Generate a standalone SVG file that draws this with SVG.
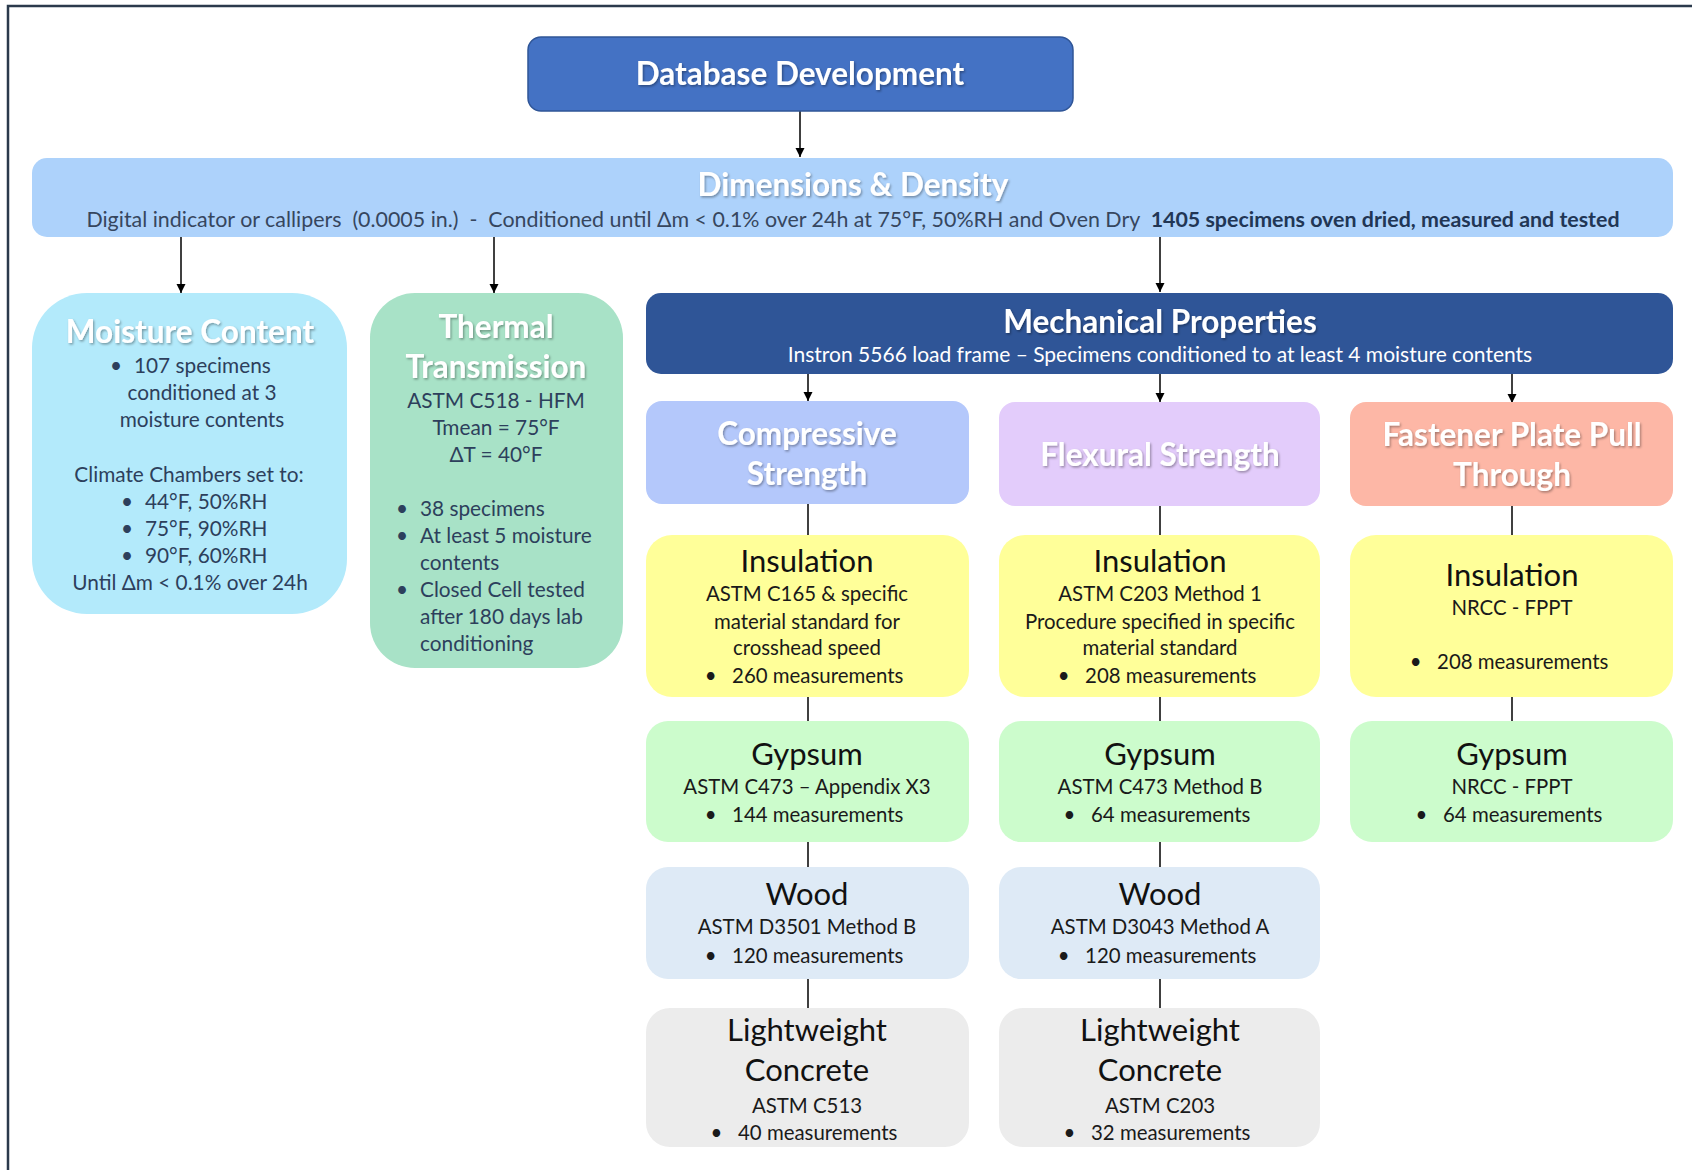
<svg xmlns="http://www.w3.org/2000/svg" width="1692" height="1170" viewBox="0 0 1692 1170">
<defs>
<marker id="arr" viewBox="0 0 10 10" refX="10" refY="5" markerWidth="9" markerHeight="10" markerUnits="userSpaceOnUse" orient="auto">
<path d="M0,0 L10,5 L0,10 z" fill="#000"/>
</marker>
<filter id="sh" x="-10%" y="-30%" width="120%" height="160%">
<feDropShadow dx="1.2" dy="1.5" stdDeviation="1" flood-color="#000" flood-opacity="0.35"/>
</filter>
</defs>
<style>
text{font-family:Lato,"Open Sans","Liberation Sans",sans-serif;}
.wt{fill:#fff;font-weight:bold;font-size:31.5px;text-anchor:middle;filter:url(#sh);}
.bd{fill:#2d3f5c;font-size:20.8px;}
.c{text-anchor:middle;}
.hd{fill:#111;font-size:31px;text-anchor:middle;}
.tx{fill:#1a1a1a;font-size:20.4px;text-anchor:middle;}
.ln{stroke:#000;stroke-width:1.5;fill:none;}
.ar{stroke:#000;stroke-width:1.5;fill:none;marker-end:url(#arr);}
</style>
<rect width="1692" height="1170" fill="#fff"/>
<path d="M8,1170 L8,6 L1692,6" fill="none" stroke="#2b3a4c" stroke-width="2.5"/>

<g id="connectors">
<line class="ar" x1="800" y1="111" x2="800" y2="157"/>
<line class="ar" x1="181" y1="237" x2="181" y2="293"/>
<line class="ar" x1="494" y1="237" x2="494" y2="293"/>
<line class="ar" x1="1160" y1="237" x2="1160" y2="292"/>
<line class="ar" x1="808" y1="374" x2="808" y2="401"/>
<line class="ar" x1="1160" y1="374" x2="1160" y2="402"/>
<line class="ar" x1="1512" y1="374" x2="1512" y2="403"/>
<line class="ln" x1="808" y1="504" x2="808" y2="535"/>
<line class="ln" x1="1160" y1="506" x2="1160" y2="535"/>
<line class="ln" x1="1512" y1="506" x2="1512" y2="535"/>
<line class="ln" x1="808" y1="697" x2="808" y2="721"/>
<line class="ln" x1="1160" y1="697" x2="1160" y2="721"/>
<line class="ln" x1="1512" y1="697" x2="1512" y2="721"/>
<line class="ln" x1="808" y1="842" x2="808" y2="867"/>
<line class="ln" x1="1160" y1="842" x2="1160" y2="867"/>
<line class="ln" x1="808" y1="979" x2="808" y2="1008"/>
<line class="ln" x1="1160" y1="979" x2="1160" y2="1008"/>
</g>

<g id="database-development">
<rect x="528" y="37" width="545" height="74" rx="13" fill="#4472c4" stroke="#2f5597" stroke-width="1.5"/>
<text class="wt" x="800" y="85">Database Development</text>
</g>

<g id="dimensions-density">
<rect x="32" y="158" width="1641" height="79" rx="15" fill="#add2fb"/>
<text class="wt" x="853" y="196">Dimensions &amp; Density</text>
<text x="853" y="227" text-anchor="middle" font-size="21.4" fill="#36465e" xml:space="preserve">Digital indicator or callipers  (0.0005 in.)  -  Conditioned until Δm &lt; 0.1% over 24h at 75°F, 50%RH and Oven Dry  <tspan font-weight="bold" fill="#213655">1405 specimens oven dried, measured and tested</tspan></text>
</g>

<g id="moisture-content">
<rect x="32" y="293" width="315" height="321" rx="55" fill="#b3eafb"/>
<text class="wt" x="190" y="343">Moisture Content</text>
<text class="bd" x="110" y="373">•</text>
<text class="bd" x="134" y="373">107 specimens</text>
<text class="bd c" x="202" y="400">conditioned at 3</text>
<text class="bd c" x="202" y="427">moisture contents</text>
<text class="bd c" x="189" y="482">Climate Chambers set to:</text>
<text class="bd" x="121" y="509">•</text>
<text class="bd" x="145" y="509">44°F, 50%RH</text>
<text class="bd" x="121" y="536">•</text>
<text class="bd" x="145" y="536">75°F, 90%RH</text>
<text class="bd" x="121" y="563">•</text>
<text class="bd" x="145" y="563">90°F, 60%RH</text>
<text class="bd c" x="190" y="590">Until Δm &lt; 0.1% over 24h</text>
</g>

<g id="thermal-transmission">
<rect x="370" y="293" width="253" height="375" rx="45" fill="#a8e2c7"/>
<text class="wt" x="496" y="338">Thermal</text>
<text class="wt" x="496" y="378">Transmission</text>
<text class="bd c" x="496" y="408">ASTM C518 - HFM</text>
<text class="bd c" x="496" y="435">Tmean = 75°F</text>
<text class="bd c" x="496" y="462">ΔT = 40°F</text>
<text class="bd" x="396" y="516">•</text>
<text class="bd" x="420" y="516">38 specimens</text>
<text class="bd" x="396" y="543">•</text>
<text class="bd" x="420" y="543">At least 5 moisture</text>
<text class="bd" x="420" y="570">contents</text>
<text class="bd" x="396" y="597">•</text>
<text class="bd" x="420" y="597">Closed Cell tested</text>
<text class="bd" x="420" y="624">after 180 days lab</text>
<text class="bd" x="420" y="651">conditioning</text>
</g>

<g id="mechanical-properties">
<rect x="646" y="293" width="1027" height="81" rx="15" fill="#2f5597"/>
<text class="wt" x="1160" y="333">Mechanical Properties</text>
<text x="1160" y="362" text-anchor="middle" font-size="21" fill="#fff">Instron 5566 load frame – Specimens conditioned to at least 4 moisture contents</text>
</g>

<g id="compressive-strength">
<rect x="646" y="401" width="323" height="103" rx="16" fill="#b4c8fb"/>
<text class="wt" x="807" y="445">Compressive</text>
<text class="wt" x="807" y="485">Strength</text>
</g>
<g id="flexural-strength">
<rect x="999" y="402" width="321" height="104" rx="16" fill="#e3ccfb"/>
<text class="wt" x="1160" y="466">Flexural Strength</text>
</g>
<g id="fastener-plate-pull-through">
<rect x="1350" y="402" width="323" height="104" rx="16" fill="#fdb7a6"/>
<text class="wt" x="1512" y="446">Fastener Plate Pull</text>
<text class="wt" x="1512" y="486">Through</text>
</g>

<g id="insulation-compressive">
<rect x="646" y="535" width="323" height="162" rx="26" fill="#ffff99"/>
<text class="hd" x="807" y="572">Insulation</text>
<text class="tx" x="807" y="601">ASTM C165 &amp; specific</text>
<text class="tx" x="807" y="629">material standard for</text>
<text class="tx" x="807" y="655">crosshead speed</text>
<text class="tx" x="804" y="683" xml:space="preserve">•   260 measurements</text>
</g>
<g id="insulation-flexural">
<rect x="999" y="535" width="321" height="162" rx="26" fill="#ffff99"/>
<text class="hd" x="1160" y="572">Insulation</text>
<text class="tx" x="1160" y="601">ASTM C203 Method 1</text>
<text class="tx" x="1160" y="629">Procedure specified in specific</text>
<text class="tx" x="1160" y="655">material standard</text>
<text class="tx" x="1157" y="683" xml:space="preserve">•   208 measurements</text>
</g>
<g id="insulation-fastener">
<rect x="1350" y="535" width="323" height="162" rx="26" fill="#ffff99"/>
<text class="hd" x="1512" y="586">Insulation</text>
<text class="tx" x="1512" y="615">NRCC - FPPT</text>
<text class="tx" x="1509" y="669" xml:space="preserve">•   208 measurements</text>
</g>

<g id="gypsum-compressive">
<rect x="646" y="721" width="323" height="121" rx="22" fill="#ccfccc"/>
<text class="hd" x="807" y="765">Gypsum</text>
<text class="tx" x="807" y="794">ASTM C473 – Appendix X3</text>
<text class="tx" x="804" y="822" xml:space="preserve">•   144 measurements</text>
</g>
<g id="gypsum-flexural">
<rect x="999" y="721" width="321" height="121" rx="22" fill="#ccfccc"/>
<text class="hd" x="1160" y="765">Gypsum</text>
<text class="tx" x="1160" y="794">ASTM C473 Method B</text>
<text class="tx" x="1157" y="822" xml:space="preserve">•   64 measurements</text>
</g>
<g id="gypsum-fastener">
<rect x="1350" y="721" width="323" height="121" rx="22" fill="#ccfccc"/>
<text class="hd" x="1512" y="765">Gypsum</text>
<text class="tx" x="1512" y="794">NRCC - FPPT</text>
<text class="tx" x="1509" y="822" xml:space="preserve">•   64 measurements</text>
</g>

<g id="wood-compressive">
<rect x="646" y="867" width="323" height="112" rx="22" fill="#deeaf6"/>
<text class="hd" x="807" y="905">Wood</text>
<text class="tx" x="807" y="934">ASTM D3501 Method B</text>
<text class="tx" x="804" y="963" xml:space="preserve">•   120 measurements</text>
</g>
<g id="wood-flexural">
<rect x="999" y="867" width="321" height="112" rx="22" fill="#deeaf6"/>
<text class="hd" x="1160" y="905">Wood</text>
<text class="tx" x="1160" y="934">ASTM D3043 Method A</text>
<text class="tx" x="1157" y="963" xml:space="preserve">•   120 measurements</text>
</g>

<g id="lightweight-concrete-compressive">
<rect x="646" y="1008" width="323" height="139" rx="24" fill="#ececec"/>
<text class="hd" x="807" y="1041">Lightweight</text>
<text class="hd" x="807" y="1081">Concrete</text>
<text class="tx" x="807" y="1113">ASTM C513</text>
<text class="tx" x="804" y="1140" xml:space="preserve">•   40 measurements</text>
</g>
<g id="lightweight-concrete-flexural">
<rect x="999" y="1008" width="321" height="139" rx="24" fill="#ececec"/>
<text class="hd" x="1160" y="1041">Lightweight</text>
<text class="hd" x="1160" y="1081">Concrete</text>
<text class="tx" x="1160" y="1113">ASTM C203</text>
<text class="tx" x="1157" y="1140" xml:space="preserve">•   32 measurements</text>
</g>
</svg>
